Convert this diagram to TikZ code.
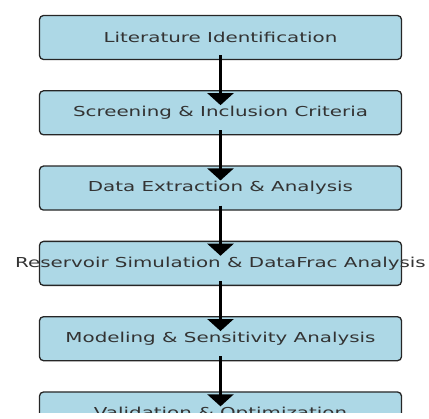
\documentclass[tikz,border=0pt]{standalone}
\usepackage{fontspec}
\newfontfamily\flowfont[FakeStretch=1.45]{DejaVu Sans}
\usepackage{tikz}
\usetikzlibrary{positioning,arrows.meta}
\definecolor{boxfill}{HTML}{ADD8E6}
\definecolor{boxedge}{HTML}{262626}
\definecolor{boxtext}{HTML}{333333}
\newcommand{\flowlabel}[1]{\makebox[0pt]{#1}}
\tikzset{
  stepbox/.style={rectangle, rounded corners=4pt, draw=boxedge, line width=1.3pt,
    fill=boxfill, minimum width=362pt, minimum height=44pt, inner sep=0pt,
    text=boxtext, font=\flowfont\fontsize{13.7}{16}\selectfont},
  flowarrow/.style={line width=2.4pt, -{Triangle[width=26pt,length=12pt]}}
}
\begin{document}
\begin{tikzpicture}[x=1pt,y=-1pt]
\useasboundingbox (0,0) rectangle (429,419);
\clip (0,0) rectangle (429,413);
% steps
\node[stepbox] (lit) at (220.5,37.5) {\flowlabel{Literature Identification}};
\node[stepbox,below=30pt of lit] (scr) {\flowlabel{Screening \& Inclusion Criteria}};
\node[stepbox,below=30pt of scr] (ext) {\flowlabel{Data Extraction \& Analysis}};
\node[stepbox,below=30pt of ext] (sim) {\flowlabel{Reservoir Simulation \& DataFrac Analysis}};
\node[stepbox,below=30pt of sim] (mod) {\flowlabel{Modeling \& Sensitivity Analysis}};
\node[stepbox,below=30pt of mod] (val) {\flowlabel{Validation \& Optimization}};
% arrows
\foreach \a/\b in {lit/scr,scr/ext,ext/sim,sim/mod,mod/val}
  \draw[flowarrow] ([yshift=5pt]\a.south) -- ([yshift=-15pt]\b.north);
\end{tikzpicture}
\end{document}
